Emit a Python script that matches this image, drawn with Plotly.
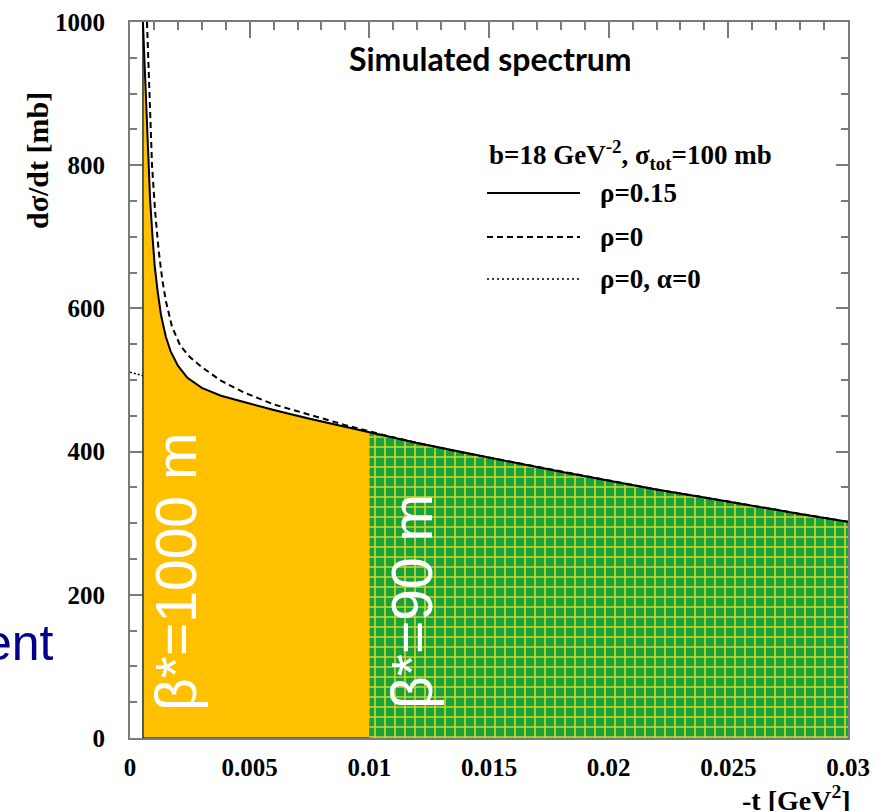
import plotly.graph_objects as go

# dσ/dt [mb] versus -t [GeV^2], b = 18 GeV^-2, sigma_tot = 100 mb
# rho = 0.15 (solid)
t_rho015 = [0.00054, 0.0006, 0.00067, 0.00075, 0.00084, 0.00093, 0.00103, 0.00115,
            0.0013, 0.0015, 0.0017, 0.002, 0.0024, 0.003, 0.0038, 0.0048, 0.006,
            0.0075, 0.009, 0.01, 0.012, 0.014, 0.016, 0.018, 0.02, 0.022, 0.024,
            0.026, 0.028, 0.03]
sig_rho015 = [1000, 945, 890, 820, 752, 705, 660, 625,
              590, 560, 540, 520, 503, 489, 478, 469, 458,
              446, 434, 427, 412, 398, 385, 372, 359, 347, 336,
              324, 313, 302]

# rho = 0 (dashed)
t_rho0 = [0.00071, 0.0008, 0.00092, 0.00105, 0.0012, 0.00135, 0.0015, 0.00175,
          0.0021, 0.0025, 0.003, 0.0038, 0.0048, 0.006, 0.0075, 0.009, 0.0105,
          0.012, 0.014, 0.016, 0.018, 0.02, 0.022, 0.024, 0.026, 0.028, 0.03]
sig_rho0 = [1000, 900, 800, 735, 680, 640, 610, 575,
            548, 532, 518, 499, 482, 466, 451, 437, 424,
            412, 398, 385, 372, 359, 347, 336, 324, 313, 302]

# rho = 0, alpha = 0 (dotted, hadronic only)
t_had = [0.0, 0.0025, 0.005, 0.0075, 0.01, 0.015, 0.02, 0.025, 0.03]
sig_had = [511, 488, 467, 446, 427, 390, 357, 326, 298]

# split between the two beta* acceptance regions
t_split = 0.01

x_ticks = [0, 0.005, 0.01, 0.015, 0.02, 0.025, 0.03]
x_ticktext = ["0", "0.005", "0.01", "0.015", "0.02", "0.025", "0.03"]
y_ticks = [0, 200, 400, 600, 800, 1000]
y_ticktext = ["0", "200", "400", "600", "800", "1000"]

W, H = 875, 811
L, R, T, B = 130, 848, 22, 738


def px(x):
    return (x - L) / (R - L)


def py(y):
    return (B - y) / (B - T)


SERIF = "Liberation Serif"
SANS = "Liberation Sans"
ORANGE = "#FFC000"
GREEN = "#18a23c"
GRID_YELLOW = "#cdd82c"
FRAME = "#7a7a7a"

fig = go.Figure()

# hadronic-only curve, underneath the filled regions
fig.add_trace(go.Scatter(x=t_had, y=sig_had, mode="lines",
                         line=dict(color="black", width=1.5, dash="2px,2px"),
                         hoverinfo="skip"))

# beta* = 1000 m region
t_low = [t for t in t_rho015 if t <= t_split]
s_low = [s for t, s in zip(t_rho015, sig_rho015) if t <= t_split]
fig.add_trace(go.Scatter(x=t_low, y=s_low, mode="lines", fill="tozeroy",
                         fillcolor=ORANGE, line=dict(width=0), hoverinfo="skip"))

# beta* = 90 m region, cross-hatched
t_high = [t for t in t_rho015 if t >= t_split]
s_high = [s for t, s in zip(t_rho015, sig_rho015) if t >= t_split]
fig.add_trace(go.Scatter(x=t_high, y=s_high, mode="lines", fill="tozeroy",
                         fillcolor=GREEN,
                         fillpattern=dict(shape="+", bgcolor=GREEN, fgcolor=GRID_YELLOW,
                                          size=10, solidity=0.3, fillmode="replace"),
                         line=dict(width=0), hoverinfo="skip"))

# outline of the lower-t region
fig.add_trace(go.Scatter(x=[t_split, t_rho015[0], t_rho015[0]],
                         y=[0, 0, sig_rho015[0]], mode="lines",
                         line=dict(color="black", width=1.2), hoverinfo="skip"))

fig.add_trace(go.Scatter(x=t_rho0, y=sig_rho0, mode="lines",
                         line=dict(color="black", width=2, dash="6px,4px"),
                         hoverinfo="skip"))
fig.add_trace(go.Scatter(x=t_rho015, y=sig_rho015, mode="lines",
                         line=dict(color="black", width=2), hoverinfo="skip"))

tickfont = dict(family=SERIF, size=25, color="black", weight="bold")

fig.update_layout(
    width=W, height=H,
    margin=dict(l=L, r=W - R, t=T, b=H - B, autoexpand=False),
    paper_bgcolor="white", plot_bgcolor="white",
    showlegend=False,
    xaxis=dict(range=[0, 0.03], tickvals=x_ticks, ticktext=x_ticktext,
               ticks="inside", ticklen=16, tickwidth=1.5, tickcolor=FRAME,
               showline=True, linecolor=FRAME, linewidth=2, mirror="ticks",
               showgrid=False, zeroline=False, layer="below traces",
               automargin=False,
               tickfont=tickfont, ticklabelstandoff=6,
               minor=dict(dtick=0.001, ticks="inside", ticklen=8,
                          tickwidth=1.5, tickcolor=FRAME, showgrid=False)),
    yaxis=dict(range=[0, 1000], tickvals=y_ticks, ticktext=y_ticktext,
               ticks="inside", ticklen=12, tickwidth=1.5, tickcolor=FRAME,
               showline=True, linecolor=FRAME, linewidth=2, mirror="ticks",
               showgrid=False, zeroline=False, layer="below traces",
               automargin=False,
               tickfont=tickfont, ticklabelstandoff=18,
               minor=dict(dtick=50, ticks="inside", ticklen=7,
                          tickwidth=1.5, tickcolor=FRAME, showgrid=False)),
)

ann = []
ann.append(dict(text="Simulated spectrum", x=px(490), y=py(58),
                font=dict(family="Lato", size=32, color="black", weight="bold")))
ann.append(dict(text="dσ/dt [mb]", x=px(38), y=py(161), textangle=-90,
                font=dict(family=SERIF, size=30, color="black", weight="bold")))
ann.append(dict(text="-t [GeV<sup>2</sup>]", x=px(853), y=py(798), xanchor="right",
                font=dict(family=SERIF, size=28, color="black", weight="bold")))
ann.append(dict(text="b=18 GeV<sup>-2</sup>, σ<sub>tot</sub>=100 mb", x=px(487),
                y=py(155), xanchor="left",
                font=dict(family=SERIF, size=27, color="black", weight="bold")))
for label, yy in [("ρ=0.15", 193), ("ρ=0", 237), ("ρ=0, α=0", 279)]:
    ann.append(dict(text=label, x=px(598), y=py(yy), xanchor="left",
                    font=dict(family=SERIF, size=27, color="black", weight="bold")))
ann.append(dict(text="β*=1000 m", x=px(176), y=py(572), textangle=-90,
                font=dict(family=SANS, size=57, color="white")))
ann.append(dict(text="β*=90 m", x=px(412), y=py(602), textangle=-90,
                font=dict(family=SANS, size=57, color="white")))
ann.append(dict(text="ent", x=px(56), y=py(643), xanchor="right",
                font=dict(family=SANS, size=50, color="#00008c")))

for a in ann:
    a.setdefault("xanchor", "center")
    a.setdefault("yanchor", "middle")
    a.update(xref="paper", yref="paper", showarrow=False)
fig.update_layout(annotations=ann)

# legend line samples
for yy, dash, w in [(193, "solid", 2), (237, "6px,4px", 2), (279, "2px,3px", 1.5)]:
    fig.add_shape(type="line", xref="paper", yref="paper",
                  x0=px(487), x1=px(580), y0=py(yy), y1=py(yy),
                  line=dict(color="black", width=w, dash=dash))

fig.write_html("out.html")
